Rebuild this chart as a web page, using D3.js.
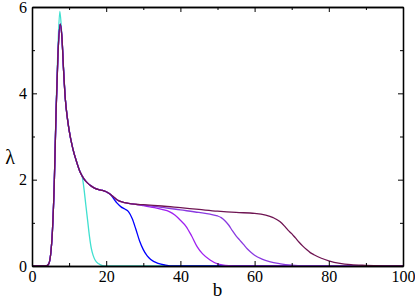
<!DOCTYPE html>
<html>
<head>
<meta charset="utf-8">
<script src="https://cdn.jsdelivr.net/npm/d3@7"></script>
<style>
  html, body { margin: 0; padding: 0; background: #fff; }
  svg text { font-family: "Liberation Serif", "Times New Roman", Times, "DejaVu Serif", serif; }
</style>
</head>
<body>
<svg id="chart" width="415" height="300"></svg>
<script>
// tick values
const xMajorTicks = [0, 20, 40, 60, 80, 100];
const xMinorTicks = [10, 30, 50, 70, 90];
const yMajorTicks = [0, 2, 4, 6];
const yMinorTicks = [1, 3, 5];

// [b, lambda] pairs
// rise + spike, shared by the four non-cyan curves
const headShared = [[0, 0], [3, 0], [4, 0.01], [4.5, 0.05], [5, 0.25], [5.5, 0.8], [6, 1.9], [6.5, 3.6],
  [7, 4.9], [7.6, 5.6], [8.1, 5.25], [8.5, 4.55], [9, 3.85], [9.5, 3.45], [10, 3.15], [11, 2.72],
  [12, 2.42], [13, 2.17]];
// cyan has a taller spike
const headCyan = [[0, 0], [3, 0], [4, 0.01], [4.5, 0.05], [5, 0.25], [5.5, 0.8], [6, 1.9], [6.5, 3.7],
  [7, 5.1], [7.5, 5.9], [8, 5.4], [8.5, 4.6], [9, 3.85], [9.5, 3.45], [10, 3.15], [11, 2.72],
  [12, 2.42], [13, 2.17]];
// plateau part, common until blue drops
const midShared = [[14, 2.02], [15, 1.92], [16, 1.85], [17, 1.8], [18, 1.77], [19, 1.75], [20, 1.72], [21, 1.67]];
const midShared2 = [[22, 1.6], [23, 1.53], [24, 1.49], [25, 1.47], [26, 1.45], [28, 1.43]];

// tails of each curve
const tailCyan = [[13.5, 2.08], [14, 1.8], [14.5, 1.42], [15, 1.05], [15.5, 0.68], [16, 0.4], [16.5, 0.24],
  [17, 0.14], [18, 0.05], [19, 0.01], [20, 0], [100, 0]];
const tailBlue = [[22, 1.56], [23, 1.45], [24, 1.37], [25, 1.32], [26, 1.26], [27, 1.1], [28, 0.85],
  [29, 0.58], [30, 0.38], [31, 0.24], [32, 0.15], [34, 0.06], [36, 0.02], [38, 0], [100, 0]];
const tailViolet = [[30, 1.4], [33, 1.35], [35, 1.31], [37, 1.26], [38.5, 1.18], [40, 1.06], [41.5, 0.92],
  [43, 0.7], [44.5, 0.45], [46, 0.28], [48, 0.14], [50, 0.05], [53, 0.01], [56, 0], [100, 0]];
const tailBlueViolet = [[30, 1.41], [35, 1.36], [40, 1.3], [45, 1.24], [48, 1.2], [50, 1.16], [51, 1.12],
  [52, 1.05], [53, 0.95], [54, 0.82], [55, 0.7], [56, 0.6], [57, 0.5], [58, 0.4], [59, 0.32], [60, 0.25],
  [62, 0.16], [64, 0.1], [67, 0.05], [70, 0.02], [75, 0], [100, 0]];
const tailMaroon = [[30, 1.42], [35, 1.39], [40, 1.35], [45, 1.31], [50, 1.27], [55, 1.24], [60, 1.22],
  [63, 1.18], [65, 1.12], [66.8, 1.03], [68, 0.93], [69, 0.83], [70, 0.75], [71, 0.65], [72, 0.55],
  [73, 0.46], [74, 0.38], [75, 0.31], [76, 0.26], [78, 0.18], [80, 0.12], [83, 0.06], [86, 0.03],
  [90, 0.015], [95, 0.005], [100, 0]];

const series = [
  { name: 'cyan', color: '#40e0d0', points: headCyan.concat(tailCyan) },
  { name: 'blue', color: '#0000ff', points: headShared.concat(midShared, tailBlue) },
  { name: 'violet', color: '#a020f0', points: headShared.concat(midShared, midShared2, tailViolet) },
  { name: 'blueviolet', color: '#8a3ae0', points: headShared.concat(midShared, midShared2, tailBlueViolet) },
  { name: 'maroon', color: '#6e1452', points: headShared.concat(midShared, midShared2, tailMaroon) }
];

const svg = d3.select('#chart');
const margin = { top: 7, left: 32 };
const width = 371;
const height = 259;
const serif = '"Liberation Serif", "Times New Roman", Times, "DejaVu Serif", serif';

const g = svg.append('g')
  .attr('transform', `translate(${margin.left},${margin.top})`);

const x = d3.scaleLinear().domain([0, 100]).range([0, width]);
const y = d3.scaleLinear().domain([0, 6]).range([height, 0]);

// curves
const line = d3.line()
  .x(d => x(d[0]))
  .y(d => y(d[1]))
  .curve(d3.curveMonotoneX);

g.selectAll('.curve')
  .data(series)
  .enter().append('path')
  .attr('class', 'curve')
  .attr('d', d => line(d.points))
  .attr('fill', 'none')
  .attr('stroke', d => d.color)
  .attr('stroke-width', 1.3)
  .attr('stroke-linejoin', 'round');

// axes, ticks pointing inward on all four sides
function styleAxis(sel) {
  sel.attr('font-family', serif);
  sel.select('.domain').attr('stroke', '#000').attr('stroke-width', 1.3);
  sel.selectAll('.tick line').attr('stroke', '#000').attr('stroke-width', 1);
  sel.selectAll('text').attr('fill', '#000').attr('font-size', 16).attr('font-family', serif);
}

const fmt = d3.format('d');

g.append('g')
  .attr('transform', `translate(0,${height})`)
  .call(d3.axisBottom(x).tickValues(xMajorTicks).tickSizeInner(-5).tickSizeOuter(0).tickPadding(5).tickFormat(fmt))
  .call(styleAxis);
g.append('g')
  .attr('transform', `translate(0,${height})`)
  .call(d3.axisBottom(x).tickValues(xMinorTicks).tickSizeInner(-3).tickSizeOuter(0).tickFormat(''))
  .call(styleAxis);

g.append('g')
  .call(d3.axisTop(x).tickValues(xMajorTicks).tickSizeInner(-5).tickSizeOuter(0).tickFormat(''))
  .call(styleAxis);
g.append('g')
  .call(d3.axisTop(x).tickValues(xMinorTicks).tickSizeInner(-3).tickSizeOuter(0).tickFormat(''))
  .call(styleAxis);

g.append('g')
  .call(d3.axisLeft(y).tickValues(yMajorTicks).tickSizeInner(-5).tickSizeOuter(0).tickPadding(5).tickFormat(fmt))
  .call(styleAxis);
g.append('g')
  .call(d3.axisLeft(y).tickValues(yMinorTicks).tickSizeInner(-3).tickSizeOuter(0).tickFormat(''))
  .call(styleAxis);

g.append('g')
  .attr('transform', `translate(${width},0)`)
  .call(d3.axisRight(y).tickValues(yMajorTicks).tickSizeInner(-5).tickSizeOuter(0).tickFormat(''))
  .call(styleAxis);
g.append('g')
  .attr('transform', `translate(${width},0)`)
  .call(d3.axisRight(y).tickValues(yMinorTicks).tickSizeInner(-3).tickSizeOuter(0).tickFormat(''))
  .call(styleAxis);

// axis titles
svg.append('text')
  .attr('x', margin.left + width / 2)
  .attr('y', 296)
  .attr('text-anchor', 'middle')
  .attr('font-family', serif)
  .attr('font-size', 19)
  .text('b');

svg.append('text')
  .attr('x', 10)
  .attr('y', 164)
  .attr('text-anchor', 'middle')
  .attr('font-family', serif)
  .attr('font-size', 20)
  .text('λ');
</script>
</body>
</html>
